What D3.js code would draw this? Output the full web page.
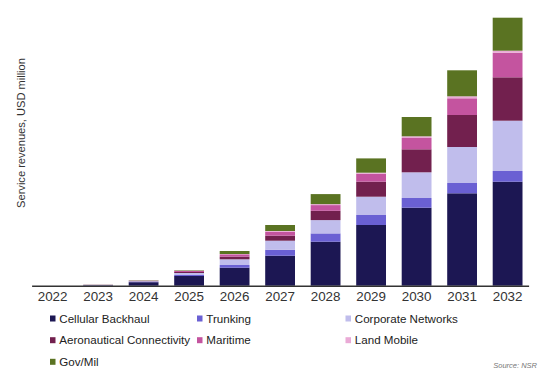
<!DOCTYPE html>
<html>
<head>
<meta charset="utf-8">
<script src="https://cdn.jsdelivr.net/npm/d3@7"></script>
<style>
html,body{margin:0;padding:0;background:#fff;}
svg{display:block;}
</style>
</head>
<body>
<svg id="chart" width="550" height="391"></svg>
<script>
const years = ["2022","2023","2024","2025","2026","2027","2028","2029","2030","2031","2032"];
const seriesNames = ["Cellular Backhaul","Trunking","Corporate Networks","Aeronautical Connectivity","Maritime","Land Mobile","Gov/Mil"];
const colors = ["#1c1753","#6a60d3","#c0bdec","#72204e","#c4549f","#eaaad6","#5a7322"];
// values (USD million, estimated)
const cellular   = [0, 5, 35, 97, 180, 300, 440, 607, 780, 924, 1040];
const trunking   = [0, 1,  5, 10,  27,  60,  83, 100,  97, 103,  107];
const corporate  = [0, 2,  5, 20,  57,  90, 133, 183, 257, 360,  503];
const aero       = [0, 1,  3, 10,  27,  50,  93, 150, 230, 320,  434];
const maritime   = [0, 1,  2, 10,  23,  40,  57,  80, 113, 167,  246];
const landMobile = [0, 0,  1,  2,   3,   7,  10,  10,  17,  20,   20];
const govMil     = [0, 1,  3,  5,  30,  60, 100, 143, 193, 260,  330];

const seriesValues = [cellular, trunking, corporate, aero, maritime, landMobile, govMil];

const rows = years.map((y,i)=>{
  const o = {year:y};
  seriesNames.forEach((s,j)=>{ o[s] = seriesValues[j][i]; });
  return o;
});

const svg = d3.select("#chart");
const x = d3.scaleBand().domain(years).range([31.6, 528.6]).paddingInner(0.345).paddingOuter(0.134);
const y = d3.scaleLinear().domain([0, 2680]).range([285.7, 17.7]);

const stacked = d3.stack().keys(seriesNames)(rows);

svg.append("g").selectAll("g").data(stacked).join("g")
  .attr("fill",(d,i)=>colors[i])
  .selectAll("rect").data(d=>d).join("rect")
  .attr("x", d=>x(d.data.year))
  .attr("width", x.bandwidth())
  .attr("y", d=>y(d[1]))
  .attr("height", d=>Math.max(0, y(d[0]) - y(d[1])));

// x axis
const xAxis = svg.append("g").attr("transform","translate(0,285.7)")
  .call(d3.axisBottom(x).tickSize(0).tickPadding(5.5));
xAxis.select(".domain").attr("stroke","#333").attr("stroke-width",1.5);
xAxis.selectAll("text").attr("font-family","Liberation Sans, Arial, sans-serif").attr("font-size","13.4px").attr("fill","#333");

// y label
svg.append("text")
  .attr("transform","translate(25,133) rotate(-90)")
  .attr("text-anchor","middle")
  .attr("font-family","Liberation Sans, Arial, sans-serif")
  .attr("font-size","11.1px")
  .attr("fill","#333")
  .text("Service revenues, USD million");

// legend
const legX = [50, 197, 345.5];
const legY = [318.5, 340.2, 361.8];
const leg = svg.append("g").attr("font-family","Liberation Sans, Arial, sans-serif").attr("font-size","11.6px");
seriesNames.forEach((s,i)=>{
  const cx = legX[i%3], cy = legY[Math.floor(i/3)];
  leg.append("rect").attr("x",cx).attr("y",cy-3).attr("width",5.5).attr("height",6).attr("fill",colors[i]);
  leg.append("text").attr("x",cx+9.3).attr("y",cy).attr("dy","0.35em").attr("fill","#222").text(s);
});

svg.append("text")
  .attr("x",537).attr("y",368)
  .attr("text-anchor","end")
  .attr("font-family","Liberation Sans, Arial, sans-serif")
  .attr("font-style","italic")
  .attr("font-size","7.5px")
  .attr("fill","#777")
  .text("Source: NSR");
</script>
</body>
</html>
